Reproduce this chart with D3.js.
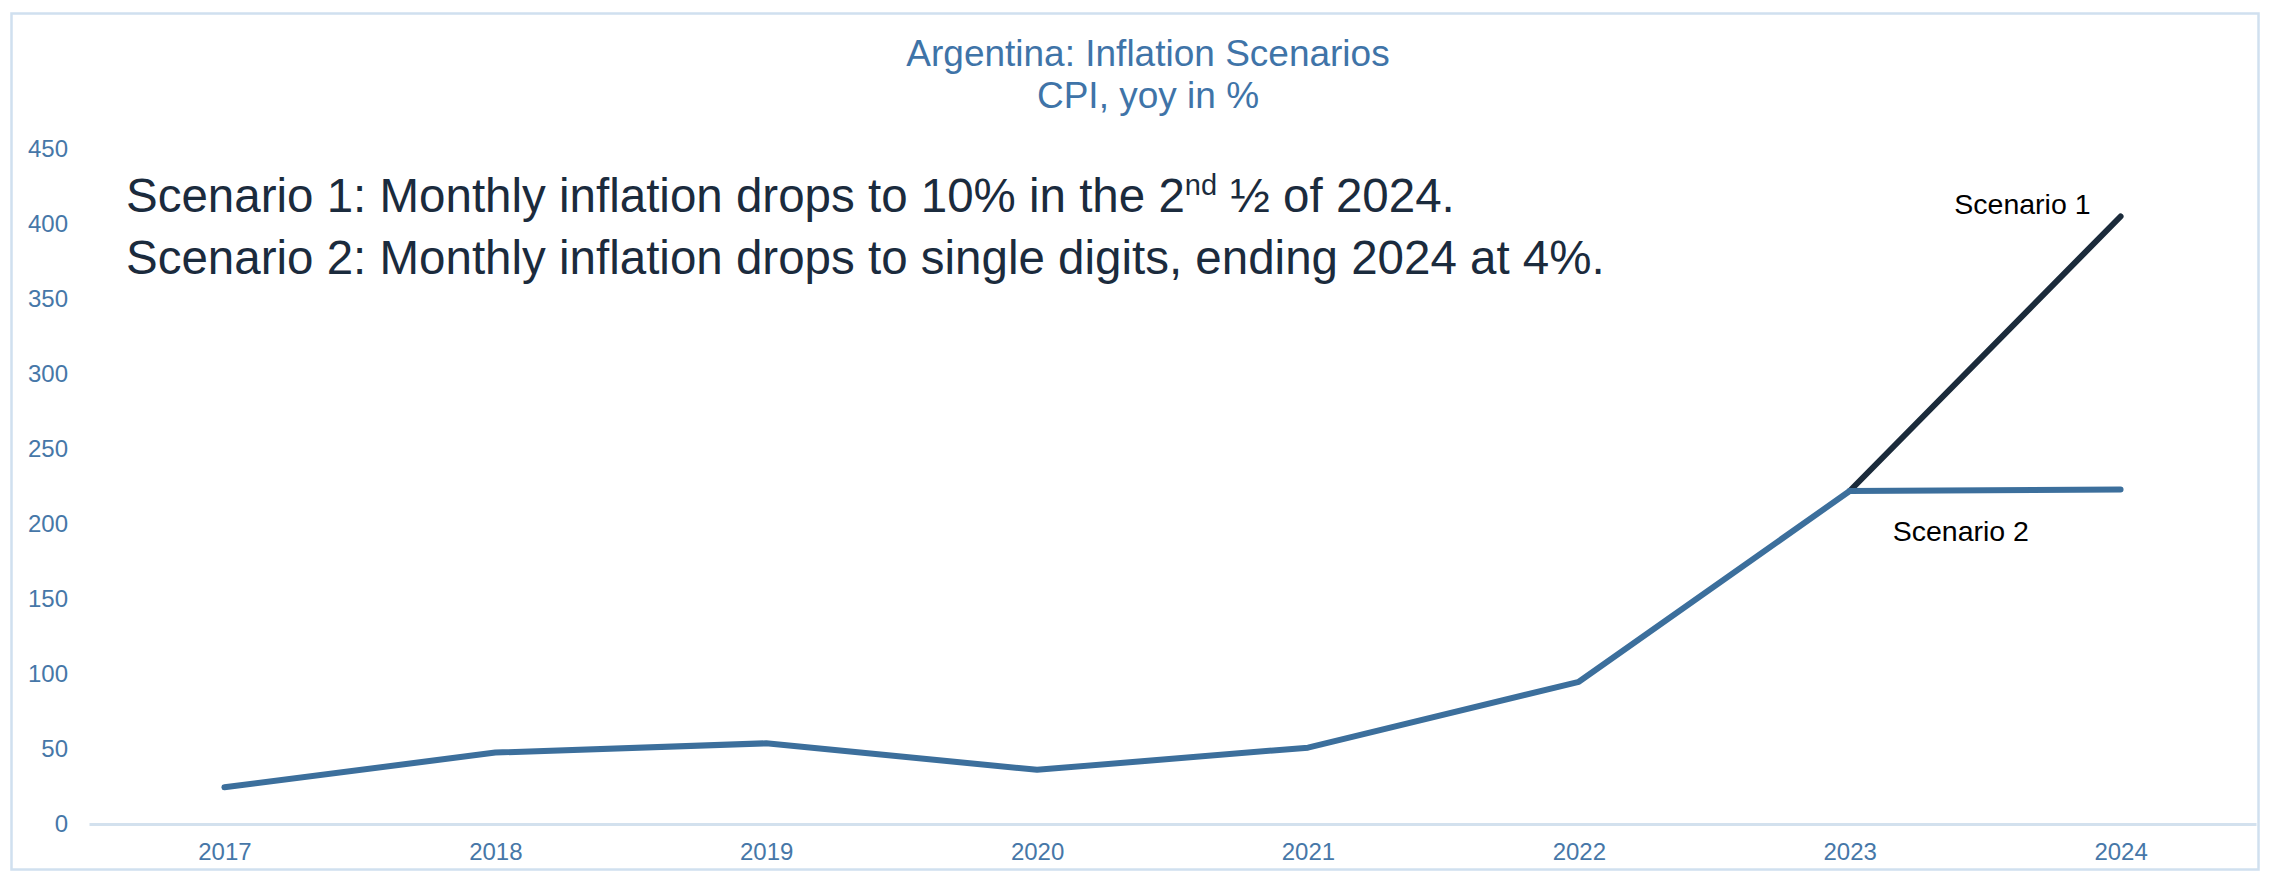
<!DOCTYPE html>
<html>
<head>
<meta charset="utf-8">
<script src="https://cdn.jsdelivr.net/npm/d3@7"></script>
<style>
  body { margin: 0; background: #fff; }
  text { font-family: "Liberation Sans", Arial, sans-serif; }
</style>
</head>
<body>
<script>
// data
let years = ['2017', '2018', '2019', '2020', '2021', '2022', '2023', '2024']
let historyYears = ['2017', '2018', '2019', '2020', '2021', '2022', '2023']
let historyValues = [24.5, 47.6, 53.8, 36.1, 50.9, 94.8, 222]
let scenarioYears = ['2023', '2024']
let scenario1Values = [222, 405]
let scenario2Values = [222, 223]
let yTicks = [0, 50, 100, 150, 200, 250, 300, 350, 400, 450]

let
  width = 2269,
  height = 879;

let margin = {
  top: 149,
  bottom: 55,
  left: 89,
  right: 13
}

let svg = d3.select('body')
            .append('svg')
            .attr('width', width)
            .attr('height', height)

// outer frame
svg.append('rect')
   .attr('x', 11.5)
   .attr('y', 13.5)
   .attr('width', 2247)
   .attr('height', 856)
   .attr('fill', 'none')
   .attr('stroke', '#d0e0ef')
   .attr('stroke-width', 2.5)

let yScale = d3.scaleLinear()
              .domain([0, 450])
              .range([height - margin.bottom, margin.top])

let xScale = d3.scalePoint()
            .domain(years)
            .range([margin.left, width - margin.right])
            .padding(0.5)

let yAxis = svg.append('g')
            .attr('transform', `translate(${margin.left - 13}, 0)`)
            .call(d3.axisLeft(yScale).tickValues(yTicks).tickSize(0).tickPadding(8))
yAxis.select('.domain').remove()
yAxis.selectAll('text')
     .style('font-size', '24px')
     .attr('fill', '#4677a8')

let xAxis = svg.append('g')
            .attr('transform', `translate(0, ${height - margin.bottom})`)
            .call(d3.axisBottom(xScale).tickSize(0).tickSizeOuter(0).tickPadding(19))
xAxis.select('.domain')
     .attr('stroke', '#d3e1ee')
     .attr('stroke-width', 3)
xAxis.selectAll('text')
     .style('font-size', '24px')
     .attr('fill', '#4677a8')

// title
svg.append('text')
   .attr('x', 1148)
   .attr('y', 66)
   .text('Argentina: Inflation Scenarios')
   .style('text-anchor', 'middle')
   .style('font-size', '37px')
   .attr('fill', '#3f74a8')
svg.append('text')
   .attr('x', 1148)
   .attr('y', 108)
   .text('CPI, yoy in %')
   .style('text-anchor', 'middle')
   .style('font-size', '37px')
   .attr('fill', '#3f74a8')

// lines
let line = d3.line()
             .x(d => xScale(d[0]))
             .y(d => yScale(d[1]))

svg.append('path')
   .datum(d3.zip(scenarioYears, scenario1Values))
   .attr('d', line)
   .attr('fill', 'none')
   .attr('stroke', '#1b2b3b')
   .attr('stroke-width', 6)
   .attr('stroke-linecap', 'round')
   .attr('stroke-linejoin', 'round')

svg.append('path')
   .datum(d3.zip(scenarioYears, scenario2Values))
   .attr('d', line)
   .attr('fill', 'none')
   .attr('stroke', '#3c6f9c')
   .attr('stroke-width', 6)
   .attr('stroke-linecap', 'round')
   .attr('stroke-linejoin', 'round')

svg.append('path')
   .datum(d3.zip(historyYears, historyValues))
   .attr('d', line)
   .attr('fill', 'none')
   .attr('stroke', '#3c6f9c')
   .attr('stroke-width', 6)
   .attr('stroke-linecap', 'round')
   .attr('stroke-linejoin', 'round')

// scenario labels
svg.append('text')
   .attr('x', xScale('2024') - 30)
   .attr('y', yScale(scenario1Values[1]) - 3)
   .text('Scenario 1')
   .style('text-anchor', 'end')
   .style('font-size', '28.5px')
   .attr('fill', '#000')
svg.append('text')
   .attr('x', xScale('2023') + 43)
   .attr('y', yScale(scenario2Values[1]) + 51)
   .text('Scenario 2')
   .style('font-size', '28.5px')
   .attr('fill', '#000')

// note
let note1 = svg.append('text')
   .attr('x', 126)
   .attr('y', 212)
   .style('font-size', '47.5px')
   .attr('fill', '#1b2b3d')
note1.append('tspan').text('Scenario 1: Monthly inflation drops to 10% in the 2')
note1.append('tspan').text('nd').attr('dy', -17).style('font-size', '29px')
note1.append('tspan').text(' \u00bd of 2024.').attr('dy', 17)

svg.append('text')
   .attr('x', 126)
   .attr('y', 274)
   .text('Scenario 2: Monthly inflation drops to single digits, ending 2024 at 4%.')
   .style('font-size', '47.5px')
   .attr('fill', '#1b2b3d')
</script>
</body>
</html>
